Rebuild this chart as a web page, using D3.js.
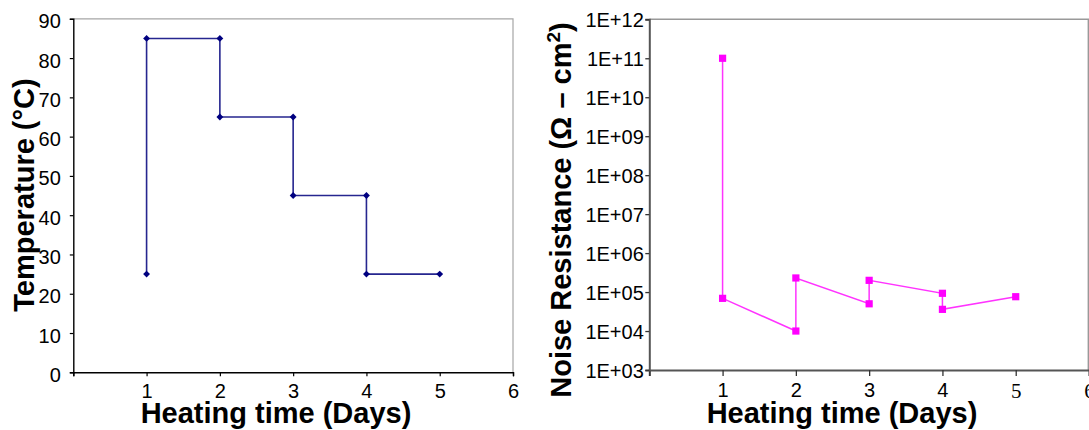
<!DOCTYPE html>
<html>
<head>
<meta charset="utf-8">
<script src="https://cdn.jsdelivr.net/npm/d3@7"></script>
<style>
  html, body { margin: 0; padding: 0; background: #fff; }
  svg { display: block; }
</style>
</head>
<body>
<div id="chart"></div>
<script>
// Heating schedule (left) and noise resistance (right), both vs heating time.

const xTicks = [0, 1, 2, 3, 4, 5, 6];

const tempDays = [1, 1, 2, 2, 3, 3, 4, 4, 5];
const temperature = [25, 85, 85, 65, 65, 45, 45, 25, 25];
const tempTicks = [0, 10, 20, 30, 40, 50, 60, 70, 80, 90];

const resDays = [1, 1, 2, 2, 3, 3, 4, 4, 5];
const resistance = [1e11, 6.9e4, 1e4, 2.3e5, 5e4, 2e5, 9.3e4, 3.6e4, 7.6e4];
const resTicks = [1e3, 1e4, 1e5, 1e6, 1e7, 1e8, 1e9, 1e10, 1e11, 1e12];

const W = 1089, H = 430;
const FONT = "'Liberation Sans', Arial, Helvetica, sans-serif";

const svg = d3.select("#chart").append("svg")
  .attr("width", W)
  .attr("height", H)
  .attr("viewBox", `0 0 ${W} ${H}`)
  .attr("font-family", FONT);

// ---------- left panel: temperature ----------
const L = { x0: 73.3, x1: 513, y0: 372.3, y1: 18.8 };
const xL = d3.scaleLinear().domain([0, 6]).range([L.x0, L.x1]);
const yL = d3.scaleLinear().domain([0, 90]).range([L.y0, L.y1]);

const gL = svg.append("g");

// top / right frame
gL.append("path")
  .attr("d", `M${L.x0},${L.y1}H${L.x1}V${L.y0}`)
  .attr("fill", "none")
  .attr("stroke", "#a6a6a6")
  .attr("stroke-width", 1.2);

const axL = gL.append("g")
  .attr("transform", `translate(0,${L.y0})`)
  .call(d3.axisBottom(xL).tickValues(xTicks).tickSize(4).tickPadding(7.5)
    .tickFormat(d => d === 0 ? "" : d));
const ayL = gL.append("g")
  .attr("transform", `translate(${L.x0},0)`)
  .call(d3.axisLeft(yL).tickValues(tempTicks).tickSize(3.5).tickPadding(9));
ayL.selectAll(".tick text").attr("dy", "0.45em");

for (const ax of [axL, ayL]) {
  ax.select(".domain").attr("stroke", "#000").attr("stroke-width", 1.4);
  ax.selectAll(".tick line").attr("stroke", "#000").attr("stroke-width", 1.2);
  ax.selectAll(".tick text").attr("font-size", 20).attr("fill", "#000")
    .attr("font-family", FONT);
}

gL.append("path")
  .datum(tempDays.map((d, i) => [d, temperature[i]]))
  .attr("d", d3.line().x(d => xL(d[0])).y(d => yL(d[1])))
  .attr("fill", "none")
  .attr("stroke", "#26268f")
  .attr("stroke-width", 1.6);

gL.selectAll("path.diamond")
  .data(tempDays.map((d, i) => [d, temperature[i]]))
  .join("path")
    .attr("class", "diamond")
    .attr("d", d3.symbol(d3.symbolDiamond2, 30))
    .attr("transform", d => `translate(${xL(d[0])},${yL(d[1])})`)
    .attr("fill", "#000080");

gL.append("text")
  .attr("x", 276)
  .attr("y", 423)
  .attr("text-anchor", "middle")
  .attr("font-size", 29)
  .attr("font-weight", "bold")
  .text("Heating time (Days)");

gL.append("text")
  .attr("transform", "translate(34,195) rotate(-90)")
  .attr("text-anchor", "middle")
  .attr("font-size", 29)
  .attr("font-weight", "bold")
  .text("Temperature (°C)");

// ---------- right panel: noise resistance ----------
const R = { x0: 649.3, x1: 1089, y0: 370, y1: 19.3 };
const xR = d3.scaleLinear().domain([0, 6]).range([R.x0, R.x1]);
const yR = d3.scaleLog().domain([1e3, 1e12]).range([R.y0, R.y1]);

const gR = svg.append("g");

gR.append("path")
  .attr("d", `M${R.x0},${R.y1}H${R.x1 - 0.6}V${R.y0}`)
  .attr("fill", "none")
  .attr("stroke", "#999")
  .attr("stroke-width", 1.6);

const axR = gR.append("g")
  .attr("transform", `translate(0,${R.y0})`)
  .call(d3.axisBottom(xR).tickValues(xTicks).tickSize(6).tickPadding(7)
    .tickFormat(d => d === 0 ? "" : d));
const ayR = gR.append("g")
  .attr("transform", `translate(${R.x0},0)`)
  .call(d3.axisLeft(yR).tickValues(resTicks).tickSize(4).tickPadding(1.5)
    .tickFormat(d => "1E+" + String(Math.round(Math.log10(d))).padStart(2, "0")));
ayR.selectAll(".tick text").attr("dy", "0.36em");

for (const ax of [axR, ayR]) {
  ax.select(".domain").attr("stroke", "#555").attr("stroke-width", 2);
  ax.selectAll(".tick line").attr("stroke", "#333").attr("stroke-width", 1.3);
  ax.selectAll(".tick text").attr("font-size", 20).attr("fill", "#000")
    .attr("font-family", FONT);
}
// the last two day labels on this panel are set in a serif face
axR.selectAll(".tick text")
  .filter(d => d >= 5)
  .attr("font-family", "'Liberation Serif', 'Times New Roman', serif")
  .attr("font-size", 21);

gR.append("path")
  .datum(resDays.map((d, i) => [d, resistance[i]]))
  .attr("d", d3.line().x(d => xR(d[0])).y(d => yR(d[1])))
  .attr("fill", "none")
  .attr("stroke", "#ff33ff")
  .attr("stroke-width", 1.5);

gR.selectAll("rect.sq")
  .data(resDays.map((d, i) => [d, resistance[i]]))
  .join("rect")
    .attr("class", "sq")
    .attr("x", d => xR(d[0]) - 3.6)
    .attr("y", d => yR(d[1]) - 3.6)
    .attr("width", 7.2)
    .attr("height", 7.2)
    .attr("fill", "#ff00ff");

gR.append("text")
  .attr("x", 842)
  .attr("y", 423)
  .attr("text-anchor", "middle")
  .attr("font-size", 29)
  .attr("font-weight", "bold")
  .text("Heating time (Days)");

const yt = gR.append("text")
  .attr("transform", "translate(571,210) rotate(-90)")
  .attr("text-anchor", "middle")
  .attr("font-size", 29)
  .attr("font-weight", "bold");
yt.append("tspan").text("Noise Resistance (Ω – cm");
yt.append("tspan").attr("font-size", 19).attr("dy", -11).text("2");
yt.append("tspan").attr("dy", 11).text(")");
</script>
</body>
</html>
